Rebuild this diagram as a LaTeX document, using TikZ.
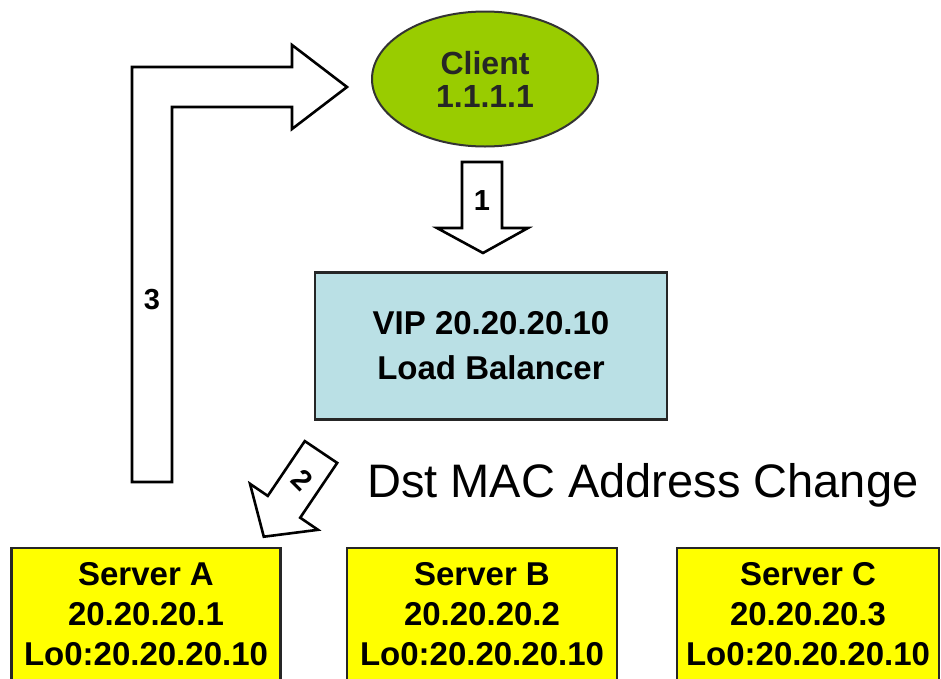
\documentclass[tikz,border=0pt]{standalone}
\usepackage{fontspec}
\setmainfont{Liberation Sans}
\usetikzlibrary{shapes.geometric}

\definecolor{clientgreen}{RGB}{153,204,0}
\definecolor{lbblue}{RGB}{186,224,229}
\definecolor{srvyellow}{RGB}{255,255,0}

\begin{document}
\begin{tikzpicture}[x=1pt, y=-1pt,
        box/.style={draw=black!85, line width=2.4pt, inner sep=0pt, align=center,
            font=\fontsize{33}{40}\selectfont\bfseries},
        server/.style={box, fill=srvyellow, anchor=north, minimum height=150, text depth=18pt},
        hollow/.style={draw=black, line width=2.6pt, fill=white, line join=miter},
        num/.style={inner sep=0pt, font=\fontsize{29}{29}\selectfont\bfseries}]
    \useasboundingbox (0,0) rectangle (941,678);
    \clip (0,0) rectangle (941,678);

    % Client
    \node[ellipse, draw=black!80, line width=2pt, fill=clientgreen, inner sep=0pt,
        minimum width=226, minimum height=135, align=center,
        font=\fontsize{32}{33}\selectfont\bfseries, text=black!85]
        (client) at (485,79) {Client\\1.1.1.1};

    % Load balancer
    \node[box, fill=lbblue, minimum width=352, minimum height=147,
        font=\fontsize{33}{45}\selectfont\bfseries]
        (lb) at (491,346) {VIP 20.20.20.10\\Load Balancer};

    % Servers
    \node[server, minimum width=269] (srvA) at (146,547) {Server A\\20.20.20.1\\Lo0:20.20.20.10};
    \node[server, minimum width=270] (srvB) at (482,547) {Server B\\20.20.20.2\\Lo0:20.20.20.10};
    \node[server, minimum width=262] (srvC) at (808,547) {Server C\\20.20.20.3\\Lo0:20.20.20.10};

    % Step 1: client -> load balancer
    \draw[hollow] (462,162) -- (502,162) -- (502,228) -- (528,228) -- (483,253)
        -- (437,228) -- (462,228) -- cycle;
    \node[num] (one) at (482,201) {1};

    % Step 2: load balancer -> server A
    \draw[hollow] (304.8,441.1) -- (337.2,462.9) -- (300.2,517.7) -- (318,529.8)
        -- (263.8,536.7) -- (250,483.8) -- (267.8,495.9) -- cycle;
    \node[num, rotate=-45] (two) at (302,480) {2};
    \node[anchor=base west, inner sep=0pt, font=\fontsize{47}{47}\selectfont]
        (dst) at (367,497) {Dst MAC Address Change};

    % Step 3: server A -> client
    \draw[hollow] (132,482) -- (132,67) -- (292,67) -- (292,45) -- (347,87)
        -- (292,129) -- (292,107) -- (172,107) -- (172,482) -- cycle;
    \node[num] (three) at (152,300) {3};
\end{tikzpicture}
\end{document}
